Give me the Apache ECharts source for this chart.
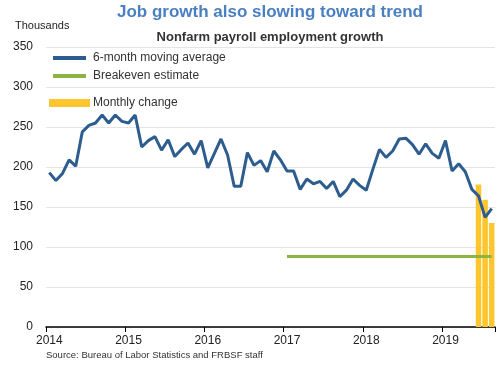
<!DOCTYPE html>
<html>
<head>
<meta charset="utf-8">
<script src="https://cdn.jsdelivr.net/npm/echarts@6/dist/echarts.min.js"></script>
<style>
html,body{margin:0;padding:0;background:#fff;}
#c{width:500px;height:365px;}
</style>
</head>
<body>
<div id="c"></div>
<script>
// ---- data ----
var startYear = 2014;
var monthCount = 68; // Jan 2014 .. Aug 2019
var months = [];
for (var i = 0; i < monthCount; i++) {
  var y = startYear + Math.floor(i / 12);
  var m = (i % 12) + 1;
  months.push(y + '-' + (m < 10 ? '0' + m : m));
}
var yearTicks = ['2014', '2015', '2016', '2017', '2018', '2019'];

var movingAverage = [
  193, 183, 192, 209, 201, 244, 252, 255, 265, 255, 265, 257,
  255, 265, 225, 233, 238, 221, 234, 213, 222, 230, 216, 233,
  199, 217, 235, 215, 176, 176, 218, 202, 208, 194, 220, 209,
  195, 195, 172, 185, 179, 182, 173, 182, 163, 171, 185, 177,
  171, 197, 222, 212, 220, 235, 236, 228, 216, 229, 217, 211,
  233, 195, 204, 194, 172, 164, 137, 148
];

var breakevenMonths = ['2017-01', '2019-08'];
var breakevenValue = 88;

var monthlyChangeMonths = ['2019-06', '2019-07', '2019-08'];
var monthlyChange = [178, 159, 130];

var yTicks = [0, 50, 100, 150, 200, 250, 300, 350];

// ---- chart ----
var FONT = '"Liberation Sans", Arial, sans-serif';
var chart = echarts.init(document.getElementById('c'), null, {renderer: 'canvas'});

var option = {
  animation: false,
  backgroundColor: '#ffffff',
  textStyle: {fontFamily: FONT},
  grid: {left: 46, right: 5, top: 47, bottom: 38, containLabel: false},
  graphic: [
    {type: 'text', x: 270, y: 12, style: {text: 'Job growth also slowing toward trend', align: 'center', verticalAlign: 'middle', font: 'bold 17px ' + FONT, fill: '#4a7fc1'}},
    {type: 'text', x: 15, y: 26, style: {text: 'Thousands', align: 'left', verticalAlign: 'middle', font: '11px ' + FONT, fill: '#222'}},
    {type: 'text', x: 270, y: 37, style: {text: 'Nonfarm payroll employment growth', align: 'center', verticalAlign: 'middle', font: 'bold 13px ' + FONT, fill: '#333'}},
    {type: 'text', x: 46, y: 355, style: {text: 'Source: Bureau of Labor Statistics and FRBSF staff', align: 'left', verticalAlign: 'middle', font: '9.5px ' + FONT, fill: '#333'}}
  ],
  legend: [
    {data: ['6-month moving average'], left: 53, top: 52, padding: 0, icon: 'rect', itemWidth: 33, itemHeight: 4,
     textStyle: {fontSize: 12, color: '#333', fontFamily: FONT, padding: [0, 0, 0, 2]}},
    {data: ['Breakeven estimate'], left: 53, top: 70, padding: 0, icon: 'rect', itemWidth: 33, itemHeight: 4,
     textStyle: {fontSize: 12, color: '#333', fontFamily: FONT, padding: [0, 0, 0, 2]}},
    {data: ['Monthly change'], left: 49, top: 97, padding: 0, icon: 'rect', itemWidth: 41, itemHeight: 8,
     textStyle: {fontSize: 12, color: '#333', fontFamily: FONT, padding: [0, 0, 0, -2]}}
  ],
  xAxis: {
    type: 'category',
    data: months,
    boundaryGap: true,
    axisLine: {show: true, lineStyle: {color: '#000', width: 1.5}},
    axisTick: {show: true, length: 5, alignWithLabel: false, lineStyle: {color: '#000', width: 1},
      interval: function (idx) { return idx % 12 === 0; }},
    axisLabel: {
      interval: function (idx) { return idx % 12 === 0; },
      formatter: function (v) { var y = v.slice(0, 4); return yearTicks.indexOf(y) >= 0 ? y : ''; },
      fontSize: 12, color: '#222', margin: 8, fontFamily: FONT
    },
    splitLine: {show: false}
  },
  yAxis: {
    type: 'value',
    min: yTicks[0],
    max: yTicks[yTicks.length - 1],
    interval: 50,
    axisLine: {show: false},
    axisTick: {show: false},
    axisLabel: {fontSize: 12, color: '#222', margin: 13, fontFamily: FONT},
    splitLine: {show: true, lineStyle: {color: '#e4e4e4', width: 1}}
  },
  series: [
    {
      name: 'Monthly change',
      type: 'bar',
      data: monthlyChangeMonths.map(function (m, i) { return [m, monthlyChange[i]]; }),
      barWidth: 5.5,
      itemStyle: {color: '#fdc52e'},
      z: 1
    },
    {
      name: 'Breakeven estimate',
      type: 'line',
      data: breakevenMonths.map(function (m) { return [m, breakevenValue]; }),
      symbol: 'none',
      lineStyle: {color: '#8cb443', width: 3},
      itemStyle: {color: '#8cb443'},
      z: 2
    },
    {
      name: '6-month moving average',
      type: 'line',
      data: movingAverage,
      symbol: 'none',
      lineStyle: {color: '#2d5d8e', width: 3},
      itemStyle: {color: '#2d5d8e'},
      z: 3
    }
  ]
};
chart.setOption(option);
</script>
</body>
</html>
